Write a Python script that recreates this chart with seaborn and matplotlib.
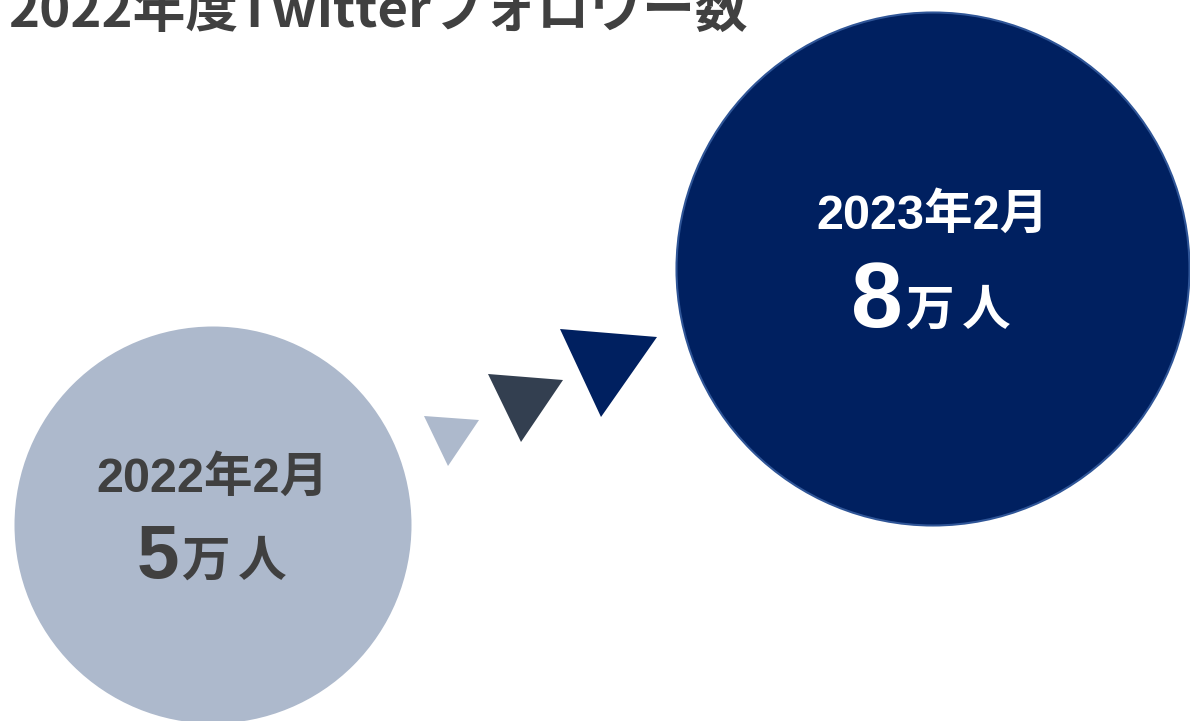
import matplotlib
matplotlib.use("Agg")
import matplotlib.pyplot as plt
from matplotlib.patches import Circle, Polygon
import seaborn as sns

# ---- data ----
title = "2022年度Twitterフォロワー数"
periods = ["2022年2月", "2023年2月"]
followers = ["5", "8"]
unit = "万人"

# ---- style ----
sns.set_theme(style="white")
plt.rcParams['font.family'] = ['Noto Sans CJK JP', 'DejaVu Sans']
mixed = ['Liberation Sans', 'Noto Sans CJK JP', 'DejaVu Sans']

circle_colors = ["#adb9cc", "#002060"]
text_colors = ["#404040", "#ffffff"]
tri_colors = ["#adb9cc", "#333f50", "#002060"]

W, H = 1190, 721
fig = plt.figure(figsize=(W / 100, H / 100), dpi=100)
ax = fig.add_axes([0, 0, 1, 1])
ax.set_xlim(0, W)
ax.set_ylim(H, 0)
ax.set_aspect('equal')
ax.axis('off')

# circles (layout)
centers = [(213, 525), (933, 269)]
radii = [198.5, 256.5]
edges = [None, "#2f5597"]
for c, r, fc, ec in zip(centers, radii, circle_colors, edges):
    ax.add_patch(Circle(c, r, facecolor=fc,
                        edgecolor=ec if ec else fc,
                        linewidth=1.5 if ec else 0, zorder=1))

# arrow triangles
tris = [
    [(424, 416), (479, 420), (448, 466)],
    [(488, 374), (563, 380), (521, 442)],
    [(560, 329), (657, 337), (601, 417)],
]
for pts, col in zip(tris, tri_colors):
    ax.add_patch(Polygon(pts, closed=True, facecolor=col, edgecolor='none', zorder=2))

# texts
label_pos = [(212, 479), (932, 216)]
num_pos = [(179, 578), (903, 327)]
num_sizes = [55, 67]
for i in range(2):
    ax.text(*label_pos[i], periods[i], ha='center', va='center', family=mixed,
            fontsize=35, fontweight='bold', color=text_colors[i], zorder=3)
    ax.text(num_pos[i][0], num_pos[i][1], followers[i], ha='right', va='baseline',
            family=mixed, fontsize=num_sizes[i], fontweight='bold',
            color=text_colors[i], zorder=3)
    ax.text(num_pos[i][0] + 2, num_pos[i][1] - 2, unit[0], ha='left', va='baseline',
            fontsize=35, fontweight='bold', color=text_colors[i], zorder=3)
    ax.text(num_pos[i][0] + 59, num_pos[i][1] - 2, unit[1], ha='left', va='baseline',
            fontsize=35, fontweight='bold', color=text_colors[i], zorder=3)

ax.text(8, 27, title, ha='left', va='baseline', fontsize=38,
        fontweight='bold', color="#404040", zorder=3)

fig.savefig("out.png", dpi=100)
